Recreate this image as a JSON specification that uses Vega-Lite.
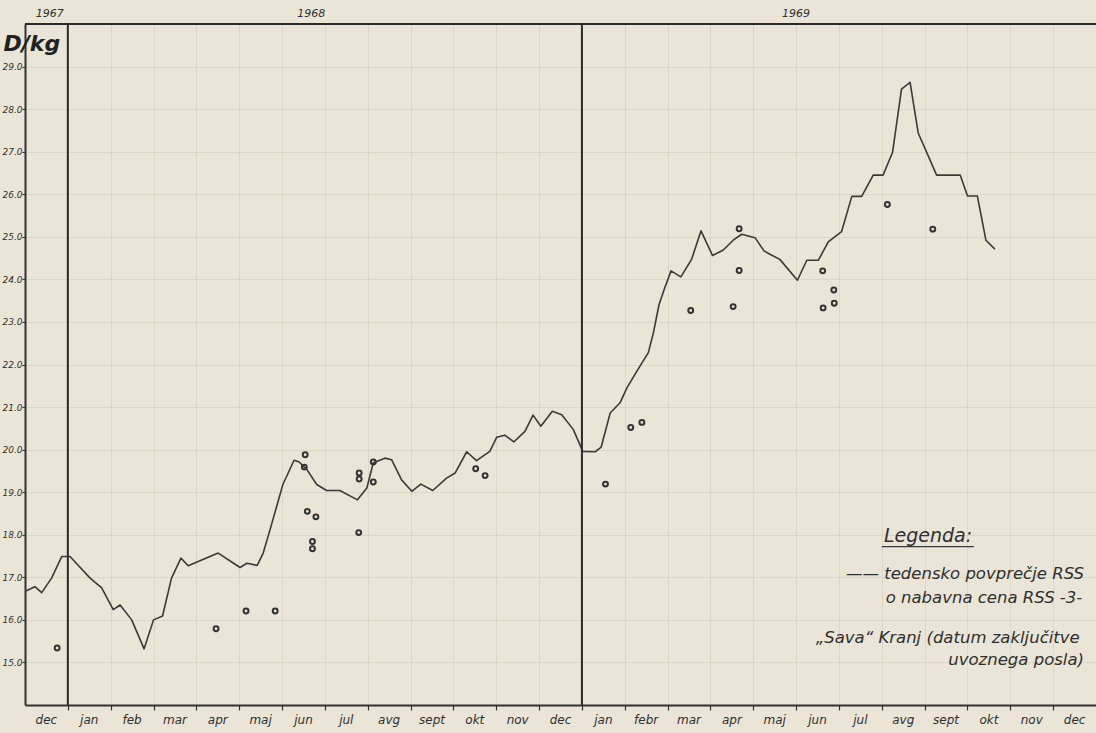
{
  "$schema": "https://vega.github.io/schema/vega-lite/v6.json",
  "width": 1071,
  "height": 681,
  "padding": {"left": 25, "top": 24, "right": 0, "bottom": 28},
  "autosize": {"type": "none"},
  "background": "#eae5d7",
  "config": {"view": {"stroke": null}, "font": "DejaVu Sans"},
  "datasets": {
    "line": [
      {"month": 0.02, "price": 16.68}, {"month": 0.23, "price": 16.78}, {"month": 0.39, "price": 16.64}, {"month": 0.62, "price": 16.98},
      {"month": 0.86, "price": 17.49}, {"month": 1.05, "price": 17.49}, {"month": 1.52, "price": 16.98}, {"month": 1.79, "price": 16.75},
      {"month": 2.06, "price": 16.24}, {"month": 2.22, "price": 16.35}, {"month": 2.49, "price": 16.0}, {"month": 2.78, "price": 15.32},
      {"month": 3.0, "price": 16.0}, {"month": 3.21, "price": 16.09}, {"month": 3.42, "price": 16.98}, {"month": 3.64, "price": 17.45},
      {"month": 3.81, "price": 17.27}, {"month": 4.51, "price": 17.57}, {"month": 5.02, "price": 17.23}, {"month": 5.18, "price": 17.33},
      {"month": 5.42, "price": 17.28}, {"month": 5.56, "price": 17.57}, {"month": 5.72, "price": 18.12}, {"month": 6.02, "price": 19.18},
      {"month": 6.28, "price": 19.75}, {"month": 6.4, "price": 19.71}, {"month": 6.58, "price": 19.53}, {"month": 6.81, "price": 19.18},
      {"month": 7.04, "price": 19.04}, {"month": 7.35, "price": 19.04}, {"month": 7.76, "price": 18.82}, {"month": 7.98, "price": 19.1},
      {"month": 8.13, "price": 19.69}, {"month": 8.21, "price": 19.72}, {"month": 8.4, "price": 19.8}, {"month": 8.56, "price": 19.76},
      {"month": 8.79, "price": 19.29}, {"month": 9.03, "price": 19.02}, {"month": 9.24, "price": 19.19}, {"month": 9.52, "price": 19.04},
      {"month": 9.84, "price": 19.33}, {"month": 10.04, "price": 19.45}, {"month": 10.31, "price": 19.95}, {"month": 10.54, "price": 19.74},
      {"month": 10.85, "price": 19.96}, {"month": 11.01, "price": 20.29}, {"month": 11.2, "price": 20.34}, {"month": 11.41, "price": 20.18},
      {"month": 11.67, "price": 20.43}, {"month": 11.86, "price": 20.81}, {"month": 12.04, "price": 20.55}, {"month": 12.31, "price": 20.9},
      {"month": 12.53, "price": 20.82}, {"month": 12.8, "price": 20.47}, {"month": 13.02, "price": 19.96}, {"month": 13.31, "price": 19.95},
      {"month": 13.45, "price": 20.06}, {"month": 13.66, "price": 20.86}, {"month": 13.89, "price": 21.1}, {"month": 14.05, "price": 21.45},
      {"month": 14.28, "price": 21.84}, {"month": 14.55, "price": 22.28}, {"month": 14.67, "price": 22.75}, {"month": 14.8, "price": 23.41},
      {"month": 14.92, "price": 23.76}, {"month": 15.08, "price": 24.2}, {"month": 15.31, "price": 24.06}, {"month": 15.56, "price": 24.47},
      {"month": 15.78, "price": 25.14}, {"month": 16.05, "price": 24.56}, {"month": 16.3, "price": 24.69}, {"month": 16.53, "price": 24.92},
      {"month": 16.73, "price": 25.06}, {"month": 17.04, "price": 24.98}, {"month": 17.25, "price": 24.67}, {"month": 17.39, "price": 24.59},
      {"month": 17.62, "price": 24.47}, {"month": 18.03, "price": 23.98}, {"month": 18.25, "price": 24.45}, {"month": 18.52, "price": 24.45},
      {"month": 18.75, "price": 24.88}, {"month": 19.06, "price": 25.12}, {"month": 19.3, "price": 25.95}, {"month": 19.53, "price": 25.95},
      {"month": 19.8, "price": 26.45}, {"month": 20.03, "price": 26.45}, {"month": 20.25, "price": 26.98}, {"month": 20.46, "price": 28.47},
      {"month": 20.66, "price": 28.63}, {"month": 20.85, "price": 27.44}, {"month": 21.28, "price": 26.45}, {"month": 21.83, "price": 26.45},
      {"month": 22.0, "price": 25.96}, {"month": 22.23, "price": 25.96}, {"month": 22.43, "price": 24.92}, {"month": 22.64, "price": 24.71}
    ],
    "points": [
      {"month": 0.75, "price": 15.34}, {"month": 4.46, "price": 15.79}, {"month": 5.16, "price": 16.21}, {"month": 5.84, "price": 16.21},
      {"month": 6.54, "price": 19.88}, {"month": 6.52, "price": 19.59}, {"month": 6.59, "price": 18.55}, {"month": 6.79, "price": 18.42},
      {"month": 6.71, "price": 17.84}, {"month": 6.71, "price": 17.67}, {"month": 7.79, "price": 18.05}, {"month": 7.8, "price": 19.45},
      {"month": 7.8, "price": 19.31}, {"month": 8.13, "price": 19.71}, {"month": 8.13, "price": 19.24}, {"month": 10.52, "price": 19.55},
      {"month": 10.74, "price": 19.39}, {"month": 13.55, "price": 19.19}, {"month": 14.14, "price": 20.52}, {"month": 14.4, "price": 20.64},
      {"month": 15.54, "price": 23.27}, {"month": 16.53, "price": 23.36}, {"month": 16.67, "price": 25.19}, {"month": 16.67, "price": 24.21},
      {"month": 18.62, "price": 24.2}, {"month": 18.88, "price": 23.75}, {"month": 18.89, "price": 23.44}, {"month": 18.63, "price": 23.33},
      {"month": 20.13, "price": 25.76}, {"month": 21.19, "price": 25.18}
    ],
    "months": [
      {"month": 0.5, "label": "dec"}, {"month": 1.5, "label": "jan"}, {"month": 2.5, "label": "feb"}, {"month": 3.5, "label": "mar"},
      {"month": 4.5, "label": "apr"}, {"month": 5.5, "label": "maj"}, {"month": 6.5, "label": "jun"}, {"month": 7.5, "label": "jul"},
      {"month": 8.5, "label": "avg"}, {"month": 9.5, "label": "sept"}, {"month": 10.5, "label": "okt"}, {"month": 11.5, "label": "nov"},
      {"month": 12.5, "label": "dec"}, {"month": 13.5, "label": "jan"}, {"month": 14.5, "label": "febr"}, {"month": 15.5, "label": "mar"},
      {"month": 16.5, "label": "apr"}, {"month": 17.5, "label": "maj"}, {"month": 18.5, "label": "jun"}, {"month": 19.5, "label": "jul"},
      {"month": 20.5, "label": "avg"}, {"month": 21.5, "label": "sept"}, {"month": 22.5, "label": "okt"}, {"month": 23.5, "label": "nov"},
      {"month": 24.5, "label": "dec"}
    ],
    "years": [
      {"month": 0.58, "label": "1967"}, {"month": 6.68, "label": "1968"}, {"month": 18.0, "label": "1969"}
    ],
    "legend": [
      {"month": 24.72, "price": 17.08, "label": "——  tedensko povprečje RSS"},
      {"month": 24.68, "price": 16.52, "label": "o  nabavna cena RSS -3-"},
      {"month": 24.62, "price": 15.58, "label": "„Sava“ Kranj (datum zaključitve"},
      {"month": 24.72, "price": 15.06, "label": "uvoznega posla)"}
    ],
    "legendTitle": [{"month": 21.08, "price": 17.98, "label": "Legenda:"}],
    "underline": [{"month": 20.0, "month2": 22.15, "price": 17.72}],
    "dividers": [{"month": 1}, {"month": 13}]
  },
  "layer": [
    {
      "data": {"name": "line"},
      "mark": {"type": "line", "color": "#3a3a3a", "strokeWidth": 1.6, "strokeJoin": "round"},
      "encoding": {
        "x": {
          "field": "month", "type": "quantitative",
          "scale": {"domain": [0, 25], "nice": false, "zero": false},
          "axis": {
            "title": null,
            "values": [1,2,3,4,5,6,7,8,9,10,11,12,13,14,15,16,17,18,19,20,21,22,23,24],
            "labels": false,
            "tickSize": 5,
            "tickColor": "#333333",
            "tickWidth": 1.2,
            "domainColor": "#333333",
            "domainWidth": 2,
            "grid": true,
            "gridColor": "#d9d2c0",
            "gridWidth": 0.8
          }
        },
        "y": {
          "field": "price", "type": "quantitative",
          "scale": {"domain": [14, 30], "nice": false, "zero": false},
          "axis": {
            "title": "D/kg",
            "titleAngle": 0,
            "titleAlign": "left",
            "titleBaseline": "middle",
            "titleX": -22,
            "titleY": 19,
            "titleFontSize": 22,
            "titleFontWeight": "bold",
            "titleFontStyle": "italic",
            "titleColor": "#222222",
            "values": [15,16,17,18,19,20,21,22,23,24,25,26,27,28,29],
            "format": ".1f",
            "labelOverlap": false,
            "labelBound": false,
            "labelFlush": false,
            "labelFontSize": 9,
            "labelFontStyle": "italic",
            "labelColor": "#2f2f2f",
            "labelPadding": 0,
            "tickSize": 3,
            "tickColor": "#333333",
            "tickWidth": 1.2,
            "domainColor": "#333333",
            "domainWidth": 2,
            "grid": true,
            "gridColor": "#d9d2c0",
            "gridWidth": 0.8
          }
        }
      }
    },
    {
      "data": {"name": "dividers"},
      "mark": {"type": "rule", "color": "#2a2a2a", "strokeWidth": 2},
      "encoding": {"x": {"field": "month", "type": "quantitative"}}
    },
    {
      "data": {"values": [{"top": 30}]},
      "mark": {"type": "rule", "color": "#2a2a2a", "strokeWidth": 2},
      "encoding": {"y": {"field": "top", "type": "quantitative"}}
    },
    {
      "data": {"name": "points"},
      "mark": {"type": "point", "shape": "circle", "filled": false, "color": "#333333", "strokeWidth": 2, "size": 24, "opacity": 1},
      "encoding": {
        "x": {"field": "month", "type": "quantitative"},
        "y": {"field": "price", "type": "quantitative"}
      }
    },
    {
      "data": {"name": "months"},
      "mark": {"type": "text", "fontSize": 12, "fontStyle": "italic", "color": "#2f2f2f", "baseline": "middle", "align": "center", "dy": 15},
      "encoding": {
        "x": {"field": "month", "type": "quantitative"},
        "y": {"datum": 14},
        "text": {"field": "label"}
      }
    },
    {
      "data": {"name": "years"},
      "mark": {"type": "text", "fontSize": 11, "fontStyle": "italic", "color": "#2f2f2f", "baseline": "bottom", "dy": -5},
      "encoding": {
        "x": {"field": "month", "type": "quantitative"},
        "y": {"datum": 30},
        "text": {"field": "label"}
      }
    },
    {
      "data": {"name": "legendTitle"},
      "mark": {"type": "text", "fontSize": 19, "fontStyle": "italic", "color": "#2f2f2f", "align": "center", "baseline": "middle"},
      "encoding": {
        "x": {"field": "month", "type": "quantitative"},
        "y": {"field": "price", "type": "quantitative"},
        "text": {"field": "label"}
      }
    },
    {
      "data": {"name": "underline"},
      "mark": {"type": "rule", "color": "#3a3a3a", "strokeWidth": 1.2},
      "encoding": {
        "x": {"field": "month", "type": "quantitative"},
        "x2": {"field": "month2"},
        "y": {"field": "price", "type": "quantitative"}
      }
    },
    {
      "data": {"name": "legend"},
      "mark": {"type": "text", "fontSize": 16.5, "fontStyle": "italic", "color": "#2f2f2f", "align": "right", "baseline": "middle"},
      "encoding": {
        "x": {"field": "month", "type": "quantitative"},
        "y": {"field": "price", "type": "quantitative"},
        "text": {"field": "label"}
      }
    }
  ]
}
